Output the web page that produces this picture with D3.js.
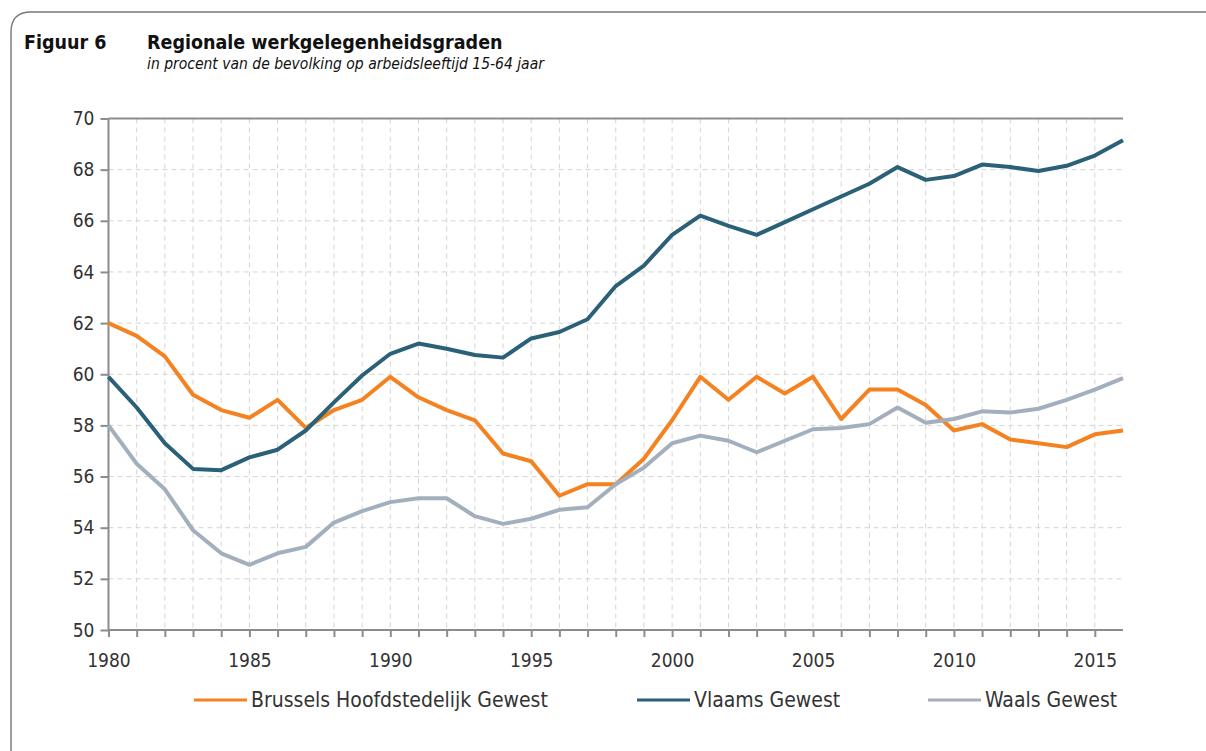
<!DOCTYPE html>
<html>
<head>
<meta charset="utf-8">
<script src="https://cdn.jsdelivr.net/npm/d3@7"></script>
<style>
  body { margin: 0; background: #fff; }
  svg { display: block; font-family: "DejaVu Sans Condensed", "DejaVu Sans", sans-serif; }
</style>
</head>
<body>
<div id="chart"></div>
<script>
// years and series (werkgelegenheidsgraad, %)
var years = d3.range(1980, 2017);
var brussel = [62.0, 61.5, 60.7, 59.2, 58.6, 58.3, 59.0, 57.9, 58.6, 59.0,
               59.9, 59.1, 58.6, 58.2, 56.9, 56.6, 55.25, 55.7, 55.7, 56.7,
               58.2, 59.9, 59.0, 59.9, 59.25, 59.9, 58.25, 59.4, 59.4, 58.8,
               57.8, 58.05, 57.45, 57.3, 57.15, 57.65, 57.8];
var vlaanderen = [59.9, 58.7, 57.3, 56.3, 56.25, 56.75, 57.05, 57.8, 58.9, 59.95,
                  60.8, 61.2, 61.0, 60.75, 60.65, 61.4, 61.65, 62.15, 63.45, 64.25,
                  65.45, 66.2, 65.8, 65.45, 65.95, 66.45, 66.95, 67.45, 68.1, 67.6,
                  67.75, 68.2, 68.1, 67.95, 68.15, 68.55, 69.15];
var wallonie = [58.0, 56.5, 55.5, 53.9, 53.0, 52.55, 53.0, 53.25, 54.2, 54.65,
                55.0, 55.15, 55.15, 54.45, 54.15, 54.35, 54.7, 54.8, 55.7, 56.35,
                57.3, 57.6, 57.4, 56.95, 57.4, 57.85, 57.9, 58.05, 58.7, 58.1,
                58.25, 58.55, 58.5, 58.65, 59.0, 59.4, 59.85];
var seriesNames = ["Brussels Hoofdstedelijk Gewest", "Vlaams Gewest", "Waals Gewest"];
var seriesColors = ["#f58220", "#2b6178", "#a3afbd"];
var yTicks = [50, 52, 54, 56, 58, 60, 62, 64, 66, 68, 70];
var xLabelYears = [1980, 1985, 1990, 1995, 2000, 2005, 2010, 2015];

var width = 1206, height = 751;
var svg = d3.select("#chart").append("svg")
    .attr("width", width)
    .attr("height", height);

// frame with rounded top-left corner
svg.append("path")
    .attr("d", "M11,765 L11,32 Q11,12 31,12 L1215,12")
    .attr("fill", "none")
    .attr("stroke", "#777")
    .attr("stroke-width", 1.4);

// titles
svg.append("text").attr("x", 24).attr("y", 49)
    .style("font-weight", "bold").style("font-size", "19.5px").attr("fill", "#111")
    .text("Figuur 6");
svg.append("text").attr("x", 147).attr("y", 49)
    .style("font-weight", "bold").style("font-size", "19.5px").attr("fill", "#111")
    .text("Regionale werkgelegenheidsgraden");
svg.append("text").attr("x", 147).attr("y", 69)
    .style("font-style", "italic").style("font-size", "15.5px").attr("fill", "#111")
    .text("in procent van de bevolking op arbeidsleeftijd 15-64 jaar");

var x = d3.scaleLinear().domain([1980, 2016]).range([108.5, 1123]);
var y = d3.scaleLinear().domain([50, 70]).range([630, 118.5]);

// dashed grid
var grid = svg.append("g").attr("class", "grid");
grid.selectAll(".vgrid")
    .data(years.filter(function (d) { return d > 1980 && d < 2016; }))
    .enter().append("line")
    .attr("x1", function (d) { return x(d); })
    .attr("x2", function (d) { return x(d); })
    .attr("y1", y(70)).attr("y2", y(50))
    .attr("stroke", "#d4d4d4").attr("stroke-width", 1)
    .attr("stroke-dasharray", "5,4");
grid.selectAll(".hgrid")
    .data(yTicks.filter(function (d) { return d > 50 && d < 70; }))
    .enter().append("line")
    .attr("x1", x(1980)).attr("x2", x(2016))
    .attr("y1", function (d) { return y(d); })
    .attr("y2", function (d) { return y(d); })
    .attr("stroke", "#d4d4d4").attr("stroke-width", 1)
    .attr("stroke-dasharray", "5,4");

// top line at 70
svg.append("line")
    .attr("x1", x(1980)).attr("x2", x(2016))
    .attr("y1", y(70)).attr("y2", y(70))
    .attr("stroke", "#8c8c8c").attr("stroke-width", 2);

// axes
var yAxis = svg.append("g")
    .attr("transform", "translate(" + x(1980) + ",0)")
    .call(d3.axisLeft(y).tickValues(yTicks).tickSize(8).tickPadding(6));
var xAxis = svg.append("g")
    .attr("transform", "translate(0," + y(50) + ")")
    .call(d3.axisBottom(x).tickValues(d3.range(1980, 2016)).tickSize(7).tickPadding(17)
        .tickFormat(function (d) { return xLabelYears.indexOf(d) >= 0 ? d : ""; }));

[yAxis, xAxis].forEach(function (a) {
    a.select(".domain").attr("stroke", "#8c8c8c").attr("stroke-width", 2);
    a.selectAll(".tick line").attr("stroke", "#8c8c8c").attr("stroke-width", 2);
    a.selectAll(".tick text").attr("fill", "#333")
        .style("font-size", "19px").style("font-family", "DejaVu Sans Condensed, DejaVu Sans, sans-serif");
});
yAxis.select(".domain").attr("d", "M0," + y(70) + "V" + y(50));
xAxis.select(".domain").attr("d", "M" + x(1980) + ",0H" + x(2016));

// lines
var allSeries = [brussel, vlaanderen, wallonie];
var line = d3.line()
    .x(function (d, i) { return x(years[i]); })
    .y(function (d) { return y(d); });

svg.selectAll(".series")
    .data(allSeries)
    .enter().append("path")
    .attr("class", "series")
    .attr("d", line)
    .attr("fill", "none")
    .attr("stroke", function (d, i) { return seriesColors[i]; })
    .attr("stroke-width", 4)
    .attr("stroke-linejoin", "round");

// legend
var legendX = [194, 637, 928];
var legend = svg.selectAll(".legend")
    .data(seriesNames)
    .enter().append("g")
    .attr("class", "legend")
    .attr("transform", function (d, i) { return "translate(" + legendX[i] + ",700)"; });
legend.append("line")
    .attr("x1", 0).attr("x2", 53).attr("y1", 0).attr("y2", 0)
    .attr("stroke", function (d, i) { return seriesColors[i]; })
    .attr("stroke-width", 3);
legend.append("text")
    .attr("x", 57).attr("y", 7)
    .attr("fill", "#333")
    .style("font-size", "21px")
    .text(function (d) { return d; });
</script>
</body>
</html>
